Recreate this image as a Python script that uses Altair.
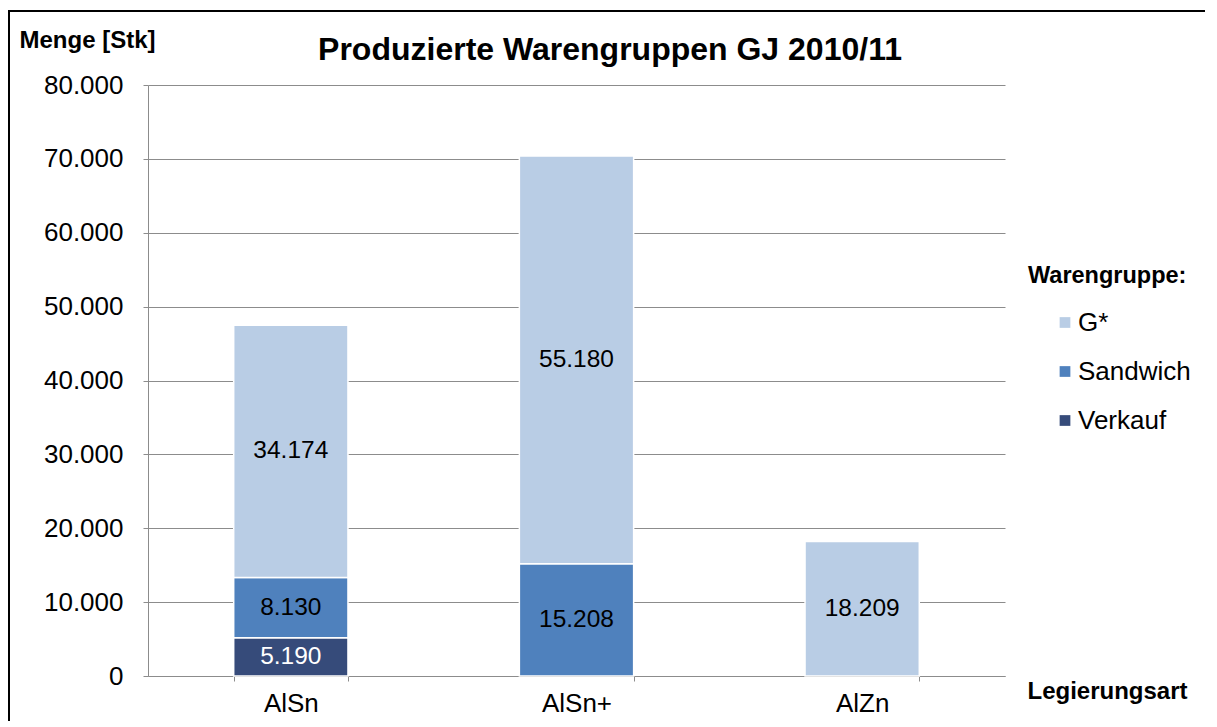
import altair as alt
import pandas as pd

categories = ["AlSn", "AlSn+", "AlZn"]
groups = ["G*", "Sandwich", "Verkauf"]
stack_order = {"Verkauf": 0, "Sandwich": 1, "G*": 2}
colors = ["#b9cde5", "#4f81bd", "#364b7a"]

verkauf = [5190, None, None]
sandwich = [8130, 15208, None]
g_star = [34174, 55180, 18209]

title_text = "Produzierte Warengruppen GJ 2010/11"

rows = []
for i, cat in enumerate(categories):
    for grp, vals in (("Verkauf", verkauf), ("Sandwich", sandwich), ("G*", g_star)):
        v = vals[i]
        if v is None:
            continue
        rows.append({
            "Legierung": cat,
            "Warengruppe": grp,
            "Menge": v,
            "ord": stack_order[grp],
            "label": f"{v:,}".replace(",", "."),
        })
df = pd.DataFrame(rows)

FONT = "Liberation Sans"
GRAY = "#8c8c8c"
AXIS_FS = 26
BAR_FS = 24.5

base = alt.Chart(df).transform_stack(
    stack="Menge", groupby=["Legierung"], as_=["y0", "y1"],
    sort=[alt.SortField("ord", order="ascending")]
).transform_calculate(mid="(datum.y0 + datum.y1) / 2")

x_enc = alt.X(
    "Legierung:N", sort=categories,
    scale=alt.Scale(paddingInner=0.6, paddingOuter=0.3),
    axis=alt.Axis(
        title="Legierungsart", titleFont=FONT, titleFontSize=24, titleFontWeight="bold",
        titleColor="black", titleAnchor="start", titleAlign="left", titleBaseline="middle",
        titleX=879, titleY=15, labelAngle=0, labelFont=FONT, labelFontSize=AXIS_FS,
        labelColor="black", labelPadding=9, tickBand="extent", tickSize=5,
        tickColor=GRAY, domainColor=GRAY, grid=False,
    ),
)

bars = base.mark_bar(stroke="white", strokeWidth=1.5).encode(
    x=x_enc,
    y=alt.Y(
        "y0:Q",
        scale=alt.Scale(domain=[0, 80000]),
        axis=alt.Axis(
            values=list(range(0, 80001, 10000)),
            labelExpr="replace(format(datum.value, ',d'), ',', '.')",
            title="Menge [Stk]", titleFont=FONT, titleFontSize=24, titleFontWeight="bold",
            titleColor="black", titleAngle=0, titleAlign="left", titleBaseline="middle",
            titleAnchor="start", titleX=-129, titleY=-45,
            labelFont=FONT, labelFontSize=AXIS_FS, labelColor="black", labelPadding=20,
            tickSize=5, tickColor=GRAY, domainColor=GRAY, gridColor=GRAY,
        ),
    ),
    y2="y1:Q",
    color=alt.Color(
        "Warengruppe:N",
        scale=alt.Scale(domain=groups, range=colors),
        legend=alt.Legend(
            title="Warengruppe:", orient="none", legendX=880, legendY=179,
            titleFont=FONT, titleFontSize=23.5, titleFontWeight="bold", titleColor="black",
            titlePadding=22, labelFont=FONT, labelFontSize=AXIS_FS, labelColor="black",
            symbolType="square", symbolSize=115, symbolOffset=24, labelOffset=0,
            rowPadding=23, padding=0, symbolStrokeWidth=0,
        ),
    ),
    order=alt.Order("ord:Q"),
)

texts = base.mark_text(font=FONT, fontSize=BAR_FS, baseline="middle").encode(
    x=alt.X("Legierung:N", sort=categories),
    y=alt.Y("mid:Q"),
    text="label:N",
    color=alt.condition(alt.datum.Warengruppe == "Verkauf", alt.value("white"), alt.value("black")),
)

title_df = pd.DataFrame({"t": [title_text]})
title_mark = alt.Chart(title_df).mark_text(
    font=FONT, fontSize=32, fontWeight="bold", color="black", align="center", baseline="middle"
).encode(text="t:N", x=alt.value(462), y=alt.value(-35))

frame_df = pd.DataFrame({"k": [1]})
top_line = alt.Chart(frame_df).mark_rule(color="black", strokeWidth=2, strokeCap="butt").encode(
    x=alt.value(-140), x2=alt.value(1300), y=alt.value(-74)
)
left_line = alt.Chart(frame_df).mark_rule(color="black", strokeWidth=2, strokeCap="butt").encode(
    x=alt.value(-139), y=alt.value(-75), y2=alt.value(900)
)

chart = alt.layer(bars, texts, title_mark, top_line, left_line).properties(
    width=857, height=591,
    padding={"left": 140, "top": 77, "right": 200, "bottom": 45},
    autosize=alt.AutoSizeParams(type="none"),
).configure_view(stroke="transparent")

chart.save("out.html", embed_options={"renderer": "svg", "actions": False})
